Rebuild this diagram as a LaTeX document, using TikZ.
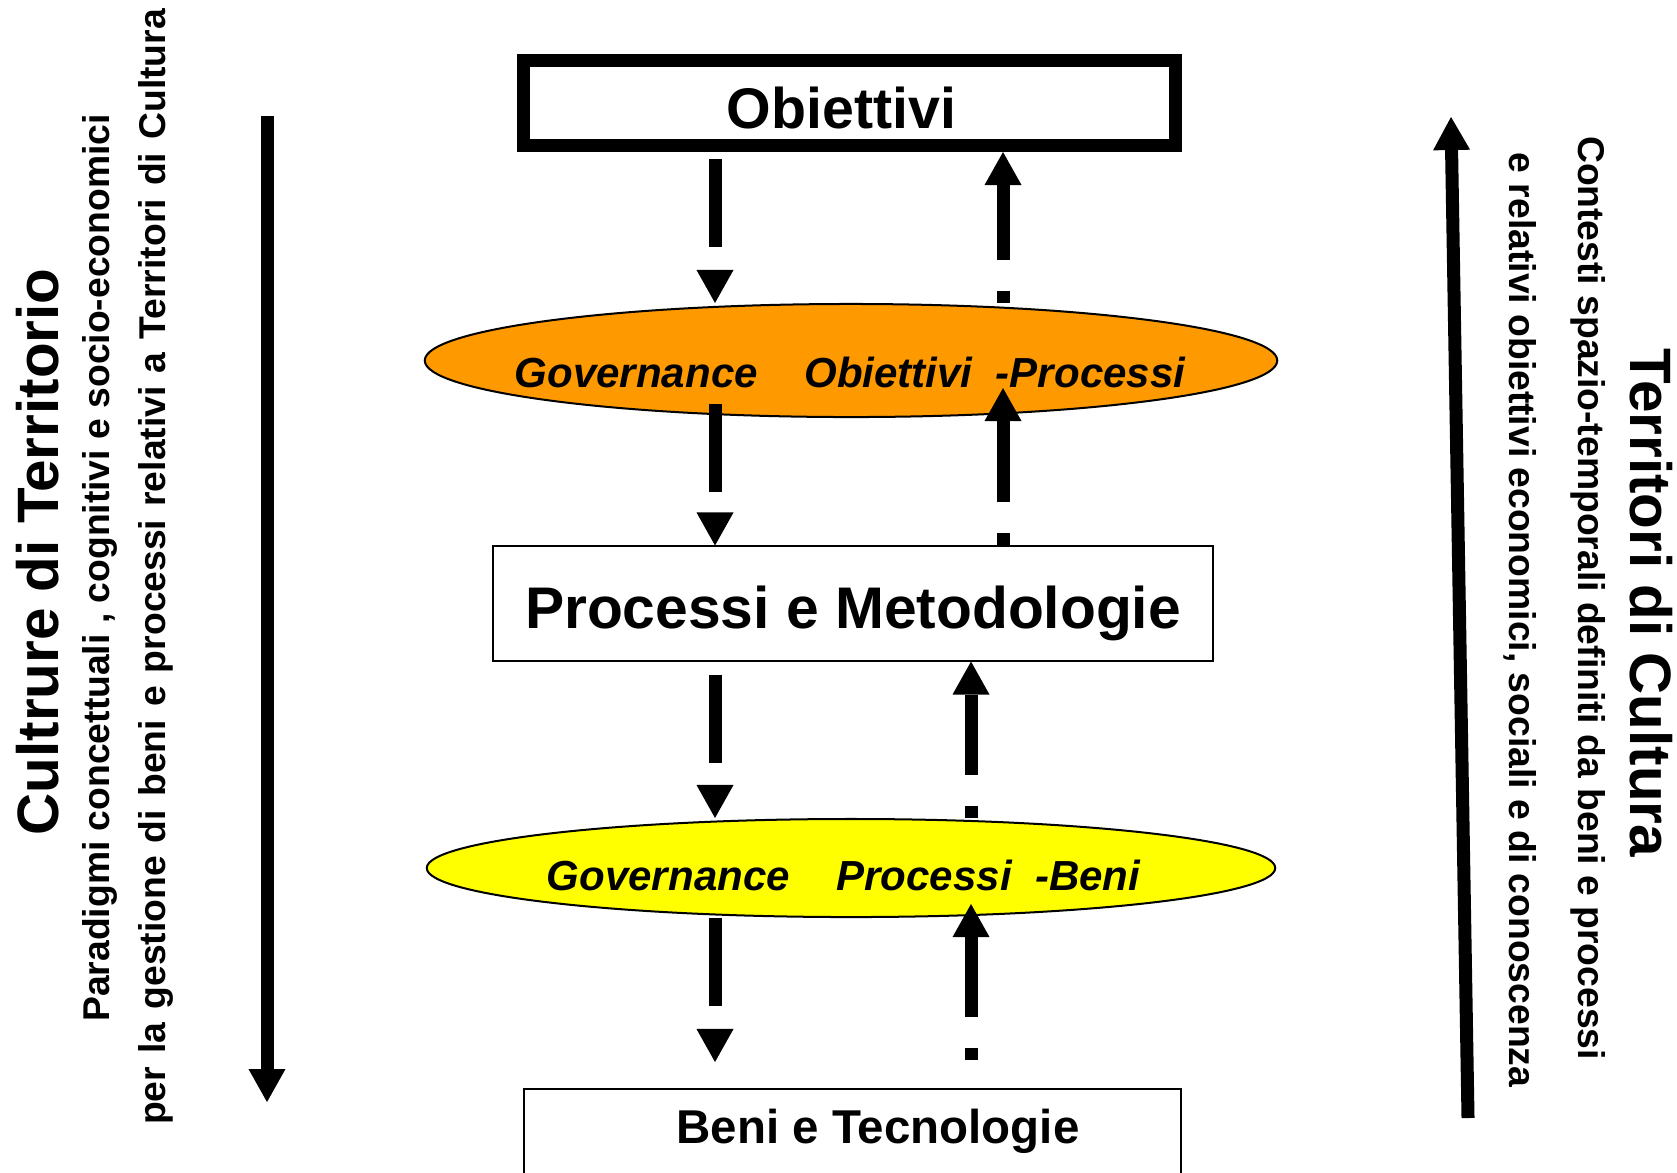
\documentclass[tikz,border=0pt]{standalone}
\usepackage{fontspec}
\setmainfont{Liberation Sans}
\usepackage{tikz}
\usetikzlibrary{arrows.meta, shapes.geometric}

\definecolor{govorange}{RGB}{255,153,0}
\definecolor{govyellow}{RGB}{255,255,0}

\tikzset{
	levelbox/.style = {draw, rectangle, line width = .57pt, inner sep = 0, text height = .5cm, text depth = 0pt, font = \bfseries\fontsize{16.3pt}{19pt}\selectfont},
	govshape/.style = {draw, ellipse, line width = .57pt, inner sep = 0},
	govtext/.style = {anchor = base, font = \bfseries\itshape\fontsize{11.95pt}{14pt}\selectfont},
	headtip/.tip = {Triangle[width = .37cm, length = .33cm, line width = 0pt]},
	dnarrow/.style = {-headtip, line width = .13cm, dash pattern = on .88cm off .6cm},
	uparrow/.style = {-headtip, line width = .13cm, dash pattern = on .12cm off .31cm on 3cm off 1cm},
	bigarrow/.style = {-headtip, line width = .13cm},
	sidetitle/.style = {anchor = base, font = \bfseries\fontsize{16.6pt}{19pt}\selectfont},
	sideline/.style = {anchor = base, font = \bfseries\fontsize{10.6pt}{12pt}\selectfont}
}

\begin{document}
\begin{tikzpicture}[x = .01cm, y = -.01cm]
	\useasboundingbox (0, 0) rectangle (1677, 1172);
	\clip (0, 0) rectangle (1677, 1172);
	\coordinate (dn) at (715, 0);
	\coordinate (upa) at (1003, 0);
	\coordinate (upb) at (971, 0);

	\node (obj) at (849.5, 103) [levelbox, line width = .13cm, minimum width = 6.52cm, minimum height = .85cm] {Obiettivi\kern.16cm};
	\node (orng) at (851, 360.5) [govshape, fill = govorange, minimum width = 8.52cm, minimum height = 1.13cm] {};
	\node (proc) at (853, 603.5) [levelbox, minimum width = 7.2cm, minimum height = 1.14cm, font = \bfseries\fontsize{16.7pt}{19pt}\selectfont] {Processi e Metodologie};
	\node (yel) at (851, 868) [govshape, fill = govyellow, minimum width = 8.48cm, minimum height = .98cm] {};
	\node (beni) at (852.5, 1088) [levelbox, anchor = north, minimum width = 6.56cm, minimum height = 1.6cm, text depth = 1.02cm, font = \bfseries\fontsize{13.5pt}{16pt}\selectfont] {\hspace{.51cm}Beni e Tecnologie};
	\node (orngtxt) at (850, 387) [govtext] {Governance~~~~Obiettivi~~-Processi};
	\node (yeltxt) at (843.5, 890) [govtext] {Governance~~~~Processi~~-Beni};

	\draw [dnarrow, shorten <= .07cm] (obj.south -| dn) -- (orng.north -| dn);
	\draw [dnarrow, shorten <= -.14cm] (orng.south -| dn) -- (proc.north -| dn);
	\draw [dnarrow, shorten <= .13cm] (proc.south -| dn) -- (yel.north -| dn);
	\draw [dnarrow, shorten >= .26cm] (yel.south -| dn) -- (beni.north -| dn);
	\draw [uparrow] (orng.north -| upa) -- (obj.south -| upa);
	\draw [uparrow, shorten >= -.3cm] (proc.north -| upa) -- (orng.south -| upa);
	\draw [uparrow] (yel.north -| upb) -- (proc.south -| upb);
	\draw [uparrow, shorten <= .28cm, shorten >= -.14cm] (beni.north -| upb) -- (yel.south -| upb);

	\node (ltitle) at (58, 552) [sidetitle, rotate = 90] {Cultrure di Territorio};
	\node (lline) at (109, 568) [sideline, rotate = 90] {Paradigmi concettuali , cognitivi e socio-economici};
	\node (lline2) at (165, 567) [sideline, rotate = 90] {\makebox[11.15cm][s]{per la gestione di beni e processi relativi a Territori di Cultura}};
	\node (rtitle) at (1630, 603) [sidetitle, rotate = -90] {Territori di Cultura};
	\node (rline) at (1578, 598) [sideline, rotate = -90] {Contesti spazio-temporali definiti da beni e processi};
	\node (rline2) at (1509, 620) [sideline, rotate = -90] {e relativi obiettivi economici, sociali e di conoscenza};

	\coordinate (ltop) at (267, 116);
	\coordinate (lbot) at (267, 1102);
	\coordinate (rbot) at (1468, 1118);
	\coordinate (rtop) at (1451, 117);
	\draw [bigarrow] (ltop) -- (lbot);
	\draw [bigarrow] (rbot) -- (rtop);
\end{tikzpicture}
\end{document}
